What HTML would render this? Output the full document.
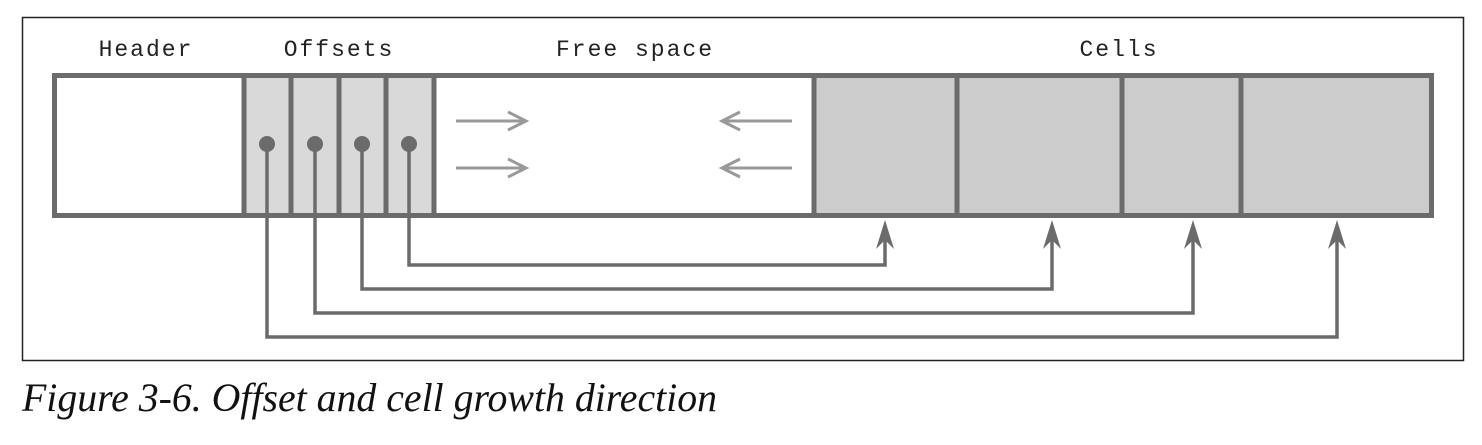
<!DOCTYPE html>
<html><head><meta charset="utf-8"><style>
body{margin:0;background:#fff;width:1482px;height:440px;overflow:hidden}
</style></head><body>
<svg width="1482" height="440" xmlns="http://www.w3.org/2000/svg">
<rect x="22.5" y="17.5" width="1441" height="343" fill="#fff" stroke="#222" stroke-width="1.5"/>
<g font-family="Liberation Mono, monospace" font-size="23" fill="#222" text-anchor="middle" letter-spacing="2">
<text x="146" y="56">Header</text>
<text x="339" y="56">Offsets</text>
<text x="635" y="56">Free space</text>
<text x="1119" y="56">Cells</text>
</g>
<rect x="244" y="75" width="190" height="140" fill="#d9d9d9"/>
<rect x="814" y="75" width="617" height="140" fill="#cccccc"/>
<rect x="54.5" y="75.5" width="1377" height="140" fill="none" stroke="#6b6b6b" stroke-width="5"/>
<g stroke="#6b6b6b" stroke-width="5">
<line x1="244" y1="75" x2="244" y2="216"/><line x1="291" y1="75" x2="291" y2="216"/>
<line x1="339" y1="75" x2="339" y2="216"/><line x1="386" y1="75" x2="386" y2="216"/>
<line x1="434" y1="75" x2="434" y2="216"/><line x1="814" y1="75" x2="814" y2="216"/>
<line x1="957" y1="75" x2="957" y2="216"/><line x1="1122" y1="75" x2="1122" y2="216"/>
<line x1="1241" y1="75" x2="1241" y2="216"/>
</g>
<g stroke="#999" stroke-width="3" fill="none">
<path d="M456 121H525M508 112L526 121L508 130"/>
<path d="M456 168H525M508 159L526 168L508 177"/>
<path d="M792 121H723M740 112L722 121L740 130"/>
<path d="M792 168H723M740 159L722 168L740 177"/>
</g>
<g stroke="#6b6b6b" stroke-width="3.5" fill="none">
<path d="M409 144V265H885V226"/>
<path d="M362 144V289H1052V226"/>
<path d="M315 144V313H1193V226"/>
<path d="M267 144V337H1337V226"/>
</g>
<g fill="#6b6b6b">
<circle cx="267" cy="144" r="8"/><circle cx="315" cy="144" r="8"/>
<circle cx="362" cy="144" r="8"/><circle cx="409" cy="144" r="8"/>
<path d="M885 220L894 249L885 240L876 249Z"/>
<path d="M1052 220L1061 249L1052 240L1043 249Z"/>
<path d="M1193 220L1202 249L1193 240L1184 249Z"/>
<path d="M1337 220L1346 249L1337 240L1328 249Z"/>
</g>
<text x="22" y="411" font-family="Liberation Serif, serif" font-style="italic" font-size="40" fill="#111" textLength="695" lengthAdjust="spacingAndGlyphs">Figure 3-6. Offset and cell growth direction</text>
</svg>
</body></html>
